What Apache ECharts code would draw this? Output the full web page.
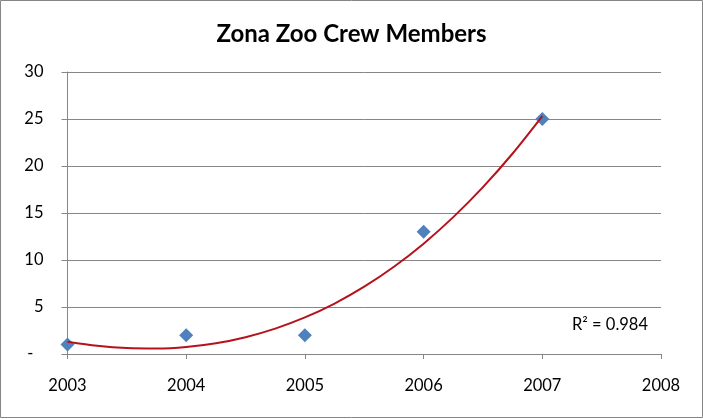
<!DOCTYPE html>
<html>
<head>
<meta charset="utf-8">
<script src="https://cdn.jsdelivr.net/npm/echarts@6/dist/echarts.min.js"></script>
<style>
html,body{margin:0;padding:0;background:#fff;}
#c{width:703px;height:419px;}
</style>
</head>
<body>
<div id="c"></div>
<script>
// Data
var years = [2003, 2004, 2005, 2006, 2007];
var members = [1, 2, 2, 13, 25];
// Polynomial trendline, every quarter year (2003..2007)
var trendYears = [2003, 2003.25, 2003.5, 2003.75, 2004, 2004.25, 2004.5, 2004.75, 2005,
                  2005.25, 2005.5, 2005.75, 2006, 2006.25, 2006.5, 2006.75, 2007];
var trendValues = [1.31, 0.88, 0.63, 0.58, 0.74, 1.14, 1.79, 2.70, 3.89,
                   5.37, 7.16, 9.28, 11.74, 14.56, 17.75, 21.33, 25.31];
var titleText = 'Zona Zoo Crew Members';
var r2Text = 'R² = 0.984';

var scatterData = years.map(function (y, i) { return [y, members[i]]; });
var trendData = trendYears.map(function (y, i) { return [y, trendValues[i]]; });

var chart = echarts.init(document.getElementById('c'), null, {renderer: 'canvas'});
var FONT = 'Lato';
chart.setOption({
  animation: false,
  backgroundColor: '#ffffff',
  title: {
    text: titleText,
    left: 'center',
    top: 17,
    textStyle: {fontFamily: FONT, fontWeight: 'bold', fontSize: 24, color: '#000'}
  },
  grid: {left: 67.5, right: 42, top: 72, bottom: 65, containLabel: false},
  xAxis: {
    type: 'value',
    min: 2003, max: 2008, interval: 1,
    axisLine: {show: true, lineStyle: {color: '#868686', width: 1}},
    axisTick: {show: true, inside: false, length: 5, lineStyle: {color: '#868686'}},
    splitLine: {show: false},
    axisLabel: {margin: 23, fontFamily: FONT, fontSize: 16.5, color: '#000',
      formatter: function (v) { return String(v); }}
  },
  yAxis: {
    type: 'value',
    min: 0, max: 30, interval: 5,
    axisLine: {show: true, lineStyle: {color: '#868686', width: 1}},
    axisTick: {show: true, inside: false, length: 6, lineStyle: {color: '#868686'}},
    splitLine: {show: true, lineStyle: {color: '#868686', width: 1}},
    axisLabel: {margin: 24, fontFamily: FONT, fontSize: 16.5, color: '#000',
      formatter: function (v) { return v === 0 ? '{d|-}' : String(v); },
      rich: {d: {fontFamily: FONT, fontSize: 16.5, color: '#000', padding: [0, 10, 0, 0]}}
    }
  },
  graphic: [
    {type: 'rect', shape: {x: 0.5, y: 0.5, width: 702, height: 417}, silent: true,
      style: {fill: 'none', stroke: '#868686', lineWidth: 1}, z: 100},
    {type: 'text', right: 55, top: 316,
      style: {text: r2Text, fontFamily: FONT, fontSize: 16.5, fill: '#000'}}
  ],
  series: [
    {
      type: 'scatter',
      data: scatterData,
      symbol: 'diamond',
      symbolSize: 14,
      itemStyle: {color: '#4F81BD', opacity: 1},
      z: 2
    },
    {
      type: 'line',
      data: trendData,
      smooth: 0.3,
      showSymbol: false,
      symbol: 'none',
      lineStyle: {color: '#B5121B', width: 2},
      z: 3
    }
  ]
});
</script>
</body>
</html>
